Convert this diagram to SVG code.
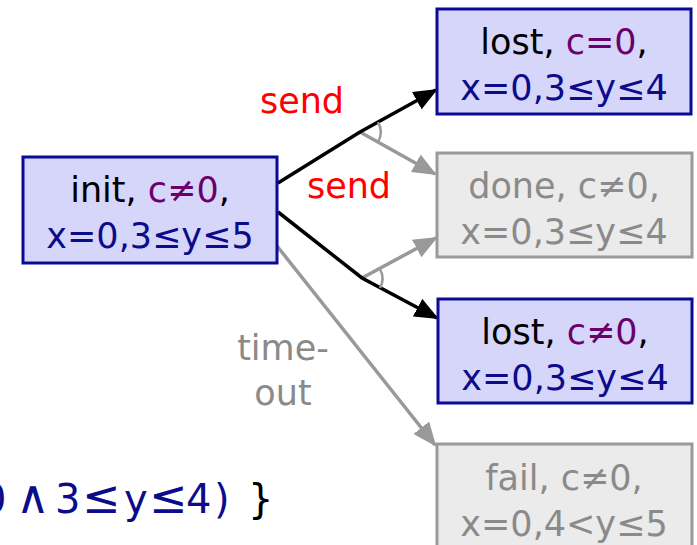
<svg xmlns="http://www.w3.org/2000/svg" width="697" height="545" viewBox="0 0 697 545">
  <style>
    text { font-family: "DejaVu Sans", "Liberation Sans", sans-serif; font-size: 35px; text-anchor: middle; }
    .box { fill: #d6d6fb; stroke: #0a0a96; stroke-width: 3; }
    .gbox { fill: #ebebeb; stroke: #9a9a9a; stroke-width: 3; }
    .k { fill: #000000; }
    .c { fill: #6b006b; }
    .b { fill: #0b0b8c; }
    .g { fill: #8a8a8a; }
    .red { fill: #ff0000; }
    .edge { fill: none; stroke: #000000; stroke-width: 3.5; }
    .gedge { fill: none; stroke: #999999; stroke-width: 3.5; }
    .arc { fill: none; stroke: #999999; stroke-width: 2.5; }
    .formula { font-size: 40px; text-anchor: start; }
    .op { font-size: 46px; }
  </style>
  <defs>
    <marker id="ah" markerUnits="userSpaceOnUse" viewBox="0 0 24 20" markerWidth="24" markerHeight="20" refX="22" refY="10" orient="auto">
      <path d="M0,0 L24,10 L0,20 z" fill="#000000"/>
    </marker>
    <marker id="ahg" markerUnits="userSpaceOnUse" viewBox="0 0 24 20" markerWidth="24" markerHeight="20" refX="22" refY="10" orient="auto">
      <path d="M0,0 L24,10 L0,20 z" fill="#999999"/>
    </marker>
  </defs>

  <!-- transitions -->
  <g id="connectors">
    <path class="gedge" d="M360,132 L435,174" marker-end="url(#ahg)"/>
    <path class="gedge" d="M362,278 L436,238" marker-end="url(#ahg)"/>
    <path class="gedge" d="M277,246 L435,445" marker-end="url(#ahg)"/>
    <path class="edge" d="M278,183 L360,132 L436,90" marker-end="url(#ah)"/>
    <path class="edge" d="M278,212 L362,278 L437,318" marker-end="url(#ah)"/>
    <!-- angle marks at the branch points -->
    <path class="arc" d="M378,122 A20,20 0 0 1 378,142"/>
    <path class="arc" d="M380,269 A20,20 0 0 1 380,288"/>
    <text class="red" x="302" y="113">send</text>
    <text class="red" x="349" y="198">send</text>
    <text class="g" x="283" y="360">time-</text>
    <text class="g" x="283" y="405">out</text>
  </g>

  <g id="init">
    <rect class="box" x="23" y="157" width="254" height="106"/>
    <text x="150" y="202"><tspan class="k">init, </tspan><tspan class="c">c≠0</tspan><tspan class="k">,</tspan></text>
    <text class="b" x="150" y="248">x=0,3≤y≤5</text>
  </g>

  <g id="lost-c0">
    <rect class="box" x="437" y="9" width="254" height="105"/>
    <text x="564" y="54"><tspan class="k">lost, </tspan><tspan class="c">c=0</tspan><tspan class="k">,</tspan></text>
    <text class="b" x="564" y="100">x=0,3≤y≤4</text>
  </g>

  <g id="done">
    <rect class="gbox" x="437" y="153" width="255" height="104"/>
    <text class="g" x="564" y="198">done, c≠0,</text>
    <text class="g" x="564" y="244">x=0,3≤y≤4</text>
  </g>

  <g id="lost-cn0">
    <rect class="box" x="438" y="299" width="254" height="104"/>
    <text x="565" y="344"><tspan class="k">lost, </tspan><tspan class="c">c≠0</tspan><tspan class="k">,</tspan></text>
    <text class="b" x="565" y="390">x=0,3≤y≤4</text>
  </g>

  <g id="fail">
    <rect class="gbox" x="437" y="444" width="255" height="110"/>
    <text class="g" x="564" y="490">fail, c≠0,</text>
    <text class="g" x="564" y="536">x=0,4&lt;y≤5</text>
  </g>

  <!-- constraint text running off the left edge -->
  <text class="formula" x="0" y="513"><tspan class="b" x="-19">0</tspan><tspan class="b op" x="16">∧</tspan><tspan class="b" x="55">3</tspan><tspan class="b op" x="82">≤</tspan><tspan class="b" x="124">y</tspan><tspan class="b op" x="149">≤</tspan><tspan class="b" x="186 214">4)</tspan><tspan class="k" x="248">}</tspan></text>
</svg>
